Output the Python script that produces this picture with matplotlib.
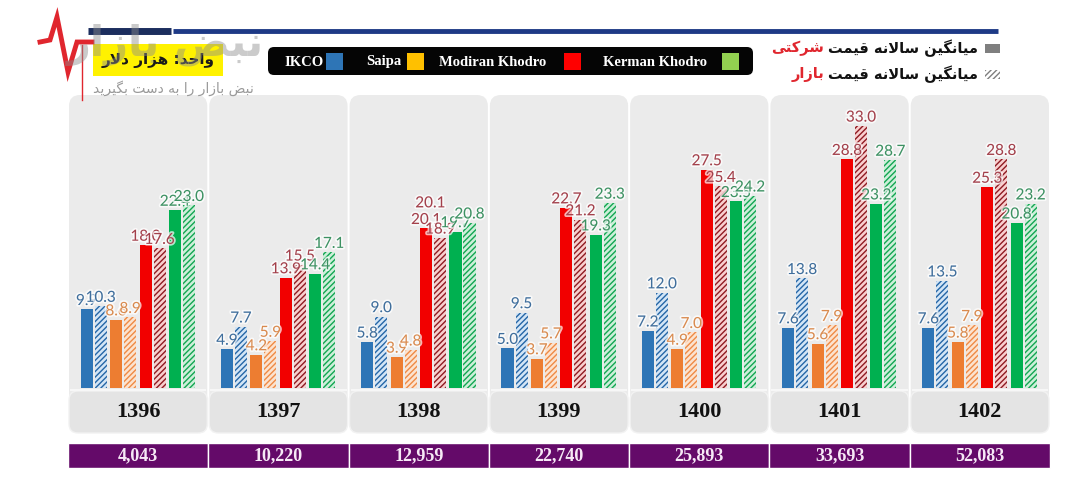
import matplotlib
matplotlib.use('Agg')
import matplotlib.pyplot as plt
import numpy as np
from matplotlib.patches import FancyBboxPatch, Rectangle
import matplotlib.patheffects as pe

# ---------------- data ----------------
years = ['1396', '1397', '1398', '1399', '1400', '1401', '1402']
dollar_rate = ['4,043', '10,220', '12,959', '22,740', '25,893', '33,693', '52,083']
companies = ['IKCO', 'Saipa', 'Modiran Khodro', 'Kerman Khodro']
ikco_company = [9.9, 4.9, 5.8, 5.0, 7.2, 7.6, 7.6]
ikco_market = [10.3, 7.7, 9.0, 9.5, 12.0, 13.8, 13.5]
saipa_company = [8.6, 4.2, 3.9, 3.7, 4.9, 5.6, 5.8]
saipa_market = [8.9, 5.9, 4.8, 5.7, 7.0, 7.9, 7.9]
modiran_company = [18.0, 13.9, 20.1, 22.7, 27.5, 28.8, 25.3]
modiran_market = [17.6, 15.5, 18.9, 21.2, 25.4, 33.0, 28.8]
kerman_company = [22.4, 14.4, 19.7, 19.3, 23.5, 23.2, 20.8]
kerman_market = [23.0, 17.1, 20.8, 23.3, 24.2, 28.7, 23.2]

# ---------------- Persian shaping helper ----------------
FORMS = {  # isolated, final, initial, medial
    'ا': ('\uFE8D', '\uFE8E', None, None),
    'ب': ('\uFE8F', '\uFE90', '\uFE91', '\uFE92'),
    'ت': ('\uFE95', '\uFE96', '\uFE97', '\uFE98'),
    'ح': ('\uFEA1', '\uFEA2', '\uFEA3', '\uFEA4'),
    'د': ('\uFEA9', '\uFEAA', None, None),
    'ر': ('\uFEAD', '\uFEAE', None, None),
    'ز': ('\uFEAF', '\uFEB0', None, None),
    'س': ('\uFEB1', '\uFEB2', '\uFEB3', '\uFEB4'),
    'ش': ('\uFEB5', '\uFEB6', '\uFEB7', '\uFEB8'),
    'ض': ('\uFEBD', '\uFEBE', '\uFEBF', '\uFEC0'),
    'ق': ('\uFED5', '\uFED6', '\uFED7', '\uFED8'),
    'ل': ('\uFEDD', '\uFEDE', '\uFEDF', '\uFEE0'),
    'م': ('\uFEE1', '\uFEE2', '\uFEE3', '\uFEE4'),
    'ن': ('\uFEE5', '\uFEE6', '\uFEE7', '\uFEE8'),
    'ه': ('\uFEE9', '\uFEEA', '\uFEEB', '\uFEEC'),
    'و': ('\uFEED', '\uFEEE', None, None),
    'ک': ('\uFB8E', '\uFB8F', '\uFB90', '\uFB91'),
    'گ': ('\uFB92', '\uFB93', '\uFB94', '\uFB95'),
    'ی': ('\uFBFC', '\uFBFD', '\uFBFE', '\uFBFF'),
}


def joins_left(c):
    return c in FORMS and FORMS[c][2] is not None


def shape(text):
    out = []
    i = 0
    n = len(text)
    while i < n:
        c = text[i]
        prev = text[i - 1] if i > 0 else ''
        connect_prev = joins_left(prev)
        if c == 'ل' and i + 1 < n and text[i + 1] == 'ا':
            out.append('\uFEFC' if connect_prev else '\uFEFB')
            i += 2
            continue
        if c not in FORMS:
            out.append(c)
            i += 1
            continue
        nxt = text[i + 1] if i + 1 < n else ''
        iso, fin, ini, med = FORMS[c]
        connect_next = ini is not None and nxt in FORMS
        if connect_prev and connect_next:
            out.append(med)
        elif connect_prev:
            out.append(fin)
        elif connect_next:
            out.append(ini)
        else:
            out.append(iso)
        i += 1
    return ''.join(out)[::-1]


# ---------------- figure ----------------
W, H = 1087, 493
fig = plt.figure(figsize=(W / 100, H / 100), dpi=100)
fig.patch.set_facecolor('white')
bg = fig.add_axes([0, 0, 1, 1])
bg.set_xlim(0, W)
bg.set_ylim(H, 0)
bg.axis('off')
bg.set_zorder(0)

# panel geometry (pixels)
px_left, px_right = 68, 1050
pw = (px_right - px_left) / len(years)
top_y, base_y, year_bot = 95, 388, 433

for i, yr in enumerate(years):
    x0 = px_left + i * pw + 1
    bg.add_patch(FancyBboxPatch((x0, top_y), pw - 2, year_bot - top_y,
                                boxstyle='round,pad=0,rounding_size=11',
                                fc='#EBEBEB', ec='none'))
    bg.add_patch(FancyBboxPatch((x0, base_y + 3), pw - 2, year_bot - base_y - 3,
                                boxstyle='round,pad=0,rounding_size=9',
                                fc='#E4E4E4', ec='#F2F2F2', lw=1))
    bg.plot([x0 + 2, x0 + pw - 4], [base_y + 2, base_y + 2], color='#F7F7F7', lw=1.5)
    bg.text(x0 + pw / 2 - 1, 412, yr, ha='center', va='center', fontsize=16,
            fontweight='bold', family='Liberation Serif', color='#111111')
    # purple strip
    bg.add_patch(Rectangle((x0 - 1, 443), pw, 24.5, fc='#640A69', ec='white', lw=1))
    bg.text(x0 + pw / 2 - 1, 455.5, dollar_rate[i], ha='center', va='center',
            fontsize=13, fontweight='bold', color='#F6E9F6',
            family='Liberation Serif')

# top rule
bg.plot([88, 171], [31, 31], color='#1C2E5E', lw=5, solid_capstyle='butt')
bg.plot([173, 998], [31, 31], color='#1E3A86', lw=3.5, solid_capstyle='butt')

# watermark logo
bg.plot([40, 50, 57, 68, 77, 92], [42, 40, 17, 72, 42, 42], color='#E0262E', lw=3.5,
        solid_joinstyle='miter', zorder=5)
bg.plot([82, 82], [45, 100], color='#E0262E', lw=1, zorder=5)

# yellow unit box
bg.add_patch(Rectangle((93, 44), 130, 32, fc='#FFF200', ec='none'))
bg.text(158, 61, shape('واحد: هزار دلار'), ha='center', va='center', fontsize=11,
        fontweight='bold', color='#1A1A1A', family='DejaVu Sans')
bg.text(165, 45, shape('نبض بازار'), ha='center', va='center', fontsize=30,
        fontweight='bold', color='#8C8C8C', alpha=0.45, family='DejaVu Sans', zorder=6)
bg.text(173, 88, shape('نبض بازار را به دست بگیرید'), ha='center', va='center',
        fontsize=10, color='#9A9A9A', family='DejaVu Sans')

# black legend box
bg.add_patch(FancyBboxPatch((268, 47), 485, 28, boxstyle='round,pad=0,rounding_size=6',
                            fc='#050505', ec='none'))
leg_colors = ['#2E75B6', '#FFC000', '#FF0000', '#92D050']
leg_text_x = [284, 366, 439, 603]
leg_sq_x = [326, 407, 564, 722]
for name, tx, sx, c in zip(companies, leg_text_x, leg_sq_x, leg_colors):
    bg.text(tx, 62, name, ha='left', va='center', fontsize=10.5, fontweight='bold',
            family='Liberation Serif', color='white')
    bg.add_patch(Rectangle((sx, 53), 17, 17, fc=c, ec='none'))

# right legend (company vs market)
renderer = fig.canvas.get_renderer()
for yy, red_word, hatched in [(48, 'شرکتی', False), (74, 'بازار', True)]:
    bg.add_patch(Rectangle((985, yy - 4), 15, 9, fc='#7F7F7F' if not hatched else 'white',
                           ec='#7F7F7F', lw=0, hatch='//////' if hatched else None))
    t1 = bg.text(978, yy, shape('میانگین سالانه قیمت'), ha='right', va='center',
                 fontsize=10.5, fontweight='bold', family='DejaVu Sans', color='#111111')
    bb = t1.get_window_extent(renderer)
    xleft = bg.transData.inverted().transform((bb.x0, bb.y0))[0]
    bg.text(xleft - 4, yy, shape(red_word), ha='right', va='center', fontsize=10.5,
            fontweight='bold', family='DejaVu Sans', color='#E0262E')

# ---------------- bars ----------------
ax = fig.add_axes([px_left / W, 1 - base_y / H, (px_right - px_left) / W,
                   (base_y - top_y) / H])
ax.set_zorder(2)
ax.patch.set_alpha(0)
ax.set_xlim(-0.5, len(years) - 0.5)
ax.set_ylim(0, (base_y - top_y) / 7.94)
ax.axis('off')

x = np.arange(len(years))
bw = 0.086
series = [
    (ikco_company, ikco_market, '#2E75B6', '#D3E5F6', '#2566A6', '#3F6E9C'),
    (saipa_company, saipa_market, '#ED7D31', '#FCE3CF', '#EE8A45', '#D98A4E'),
    (modiran_company, modiran_market, '#F20000', '#F9CFCF', '#8E1B22', '#A3404B'),
    (kerman_company, kerman_market, '#00B050', '#CDEFD9', '#13A552', '#3C9162'),
]
centers = [-0.317, -0.107, 0.103, 0.312]
glow = [pe.withStroke(linewidth=2.5, foreground='white', alpha=0.7)]
for (comp, mkt, c, hf, hc, lc), cx in zip(series, centers):
    b1 = ax.bar(x + cx - 0.05, comp, bw, color=c, lw=0)
    b2 = ax.bar(x + cx + 0.05, mkt, bw, color=hf, edgecolor=hc, lw=0, hatch='//////')
    for bars, vals in [(b1, comp), (b2, mkt)]:
        for r, v in zip(bars, vals):
            ax.annotate(f'{v:.1f}', (r.get_x() + r.get_width() / 2, v),
                        xytext=(0, 1), textcoords='offset points', ha='center',
                        va='bottom', fontsize=11, color=lc, family='Lato',
                        path_effects=glow, annotation_clip=False)

# duplicated label visible in the original (1398, Modiran)
ax.annotate(f'{modiran_company[2]:.1f}', (2 + centers[2] - 0.02, modiran_company[2]),
            xytext=(0, 13), textcoords='offset points', ha='center', va='bottom',
            fontsize=11, color=series[2][5], family='Lato', path_effects=glow)

fig.savefig('out.png', dpi=100, facecolor='white')
